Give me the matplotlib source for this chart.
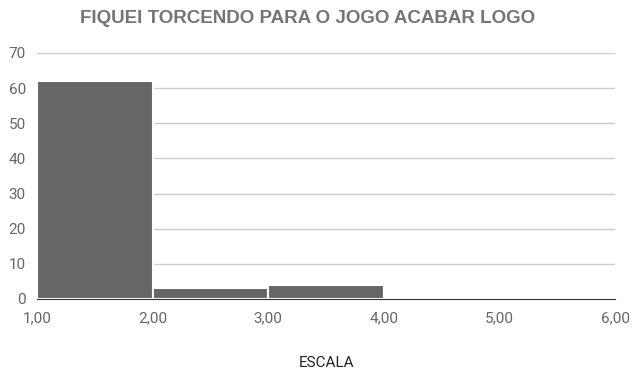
import numpy as np
from matplotlib import pyplot as plt

# Histogram bins (left edges) and counts
bin_edges = [1.0, 2.0, 3.0, 4.0, 5.0]
counts = [62, 3, 4, 0, 0]
x_ticks = [1, 2, 3, 4, 5, 6]
x_labels = ["1,00", "2,00", "3,00", "4,00", "5,00", "6,00"]
y_ticks = [0, 10, 20, 30, 40, 50, 60, 70]

plt.rcParams["font.family"] = ["Roboto", "DejaVu Sans"]

fig = plt.figure(figsize=(6.34, 3.73), dpi=100)
ax = fig.add_axes([37 / 634, 1 - 299 / 373, 578 / 634, 246 / 373])

ax.bar(bin_edges, counts, width=1.0, align="edge", color="#666666",
       edgecolor="white", linewidth=1.5, zorder=2)

ax.set_xlim(1, 6)
ax.set_ylim(0, 70)
ax.set_xticks(x_ticks)
ax.set_xticklabels(x_labels)
ax.set_yticks(y_ticks)
ax.grid(axis="y", color="#cccccc", linewidth=1, zorder=0)
ax.tick_params(length=0, labelsize=11, labelcolor="#666666")
ax.tick_params(axis="x", pad=9)
ax.tick_params(axis="y", pad=8)

for side in ["top", "right", "left"]:
    ax.spines[side].set_visible(False)
ax.spines["bottom"].set_color("#333333")
ax.spines["bottom"].set_zorder(3)

fig.text(308 / 634, 1 - 18.5 / 373, "FIQUEI TORCENDO PARA O JOGO ACABAR LOGO",
         ha="center", va="center", fontsize=13.5, fontweight="bold",
         color="#757575", family="Liberation Sans")
fig.text(327 / 634, 1 - 363 / 373, "ESCALA", ha="center", va="center",
         fontsize=11, color="#222222")

fig.savefig("out.png", dpi=100)
